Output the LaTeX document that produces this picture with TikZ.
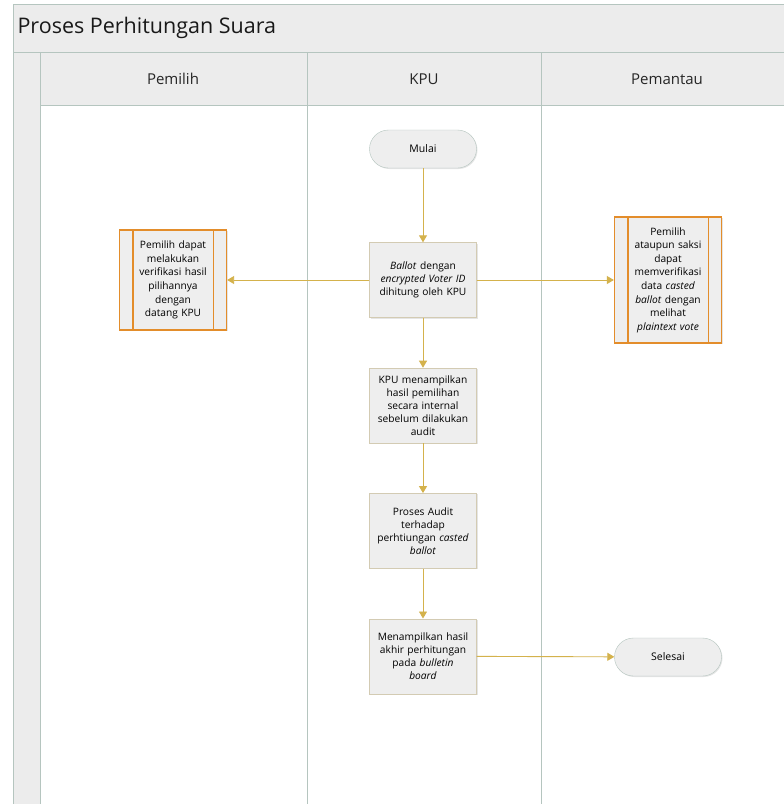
\documentclass[tikz,border=0pt]{standalone}
\usepackage{fontspec}
\setmainfont{Open Sans}
\usetikzlibrary{arrows.meta,positioning,shadows}
\definecolor{frameln}{HTML}{B5C5BF}
\definecolor{bandfill}{HTML}{ECECEC}
\definecolor{boxfill}{HTML}{EEEEEE}
\definecolor{flowln}{HTML}{D4B24C}
\definecolor{predln}{HTML}{E38D2B}
\definecolor{procln}{HTML}{D3CBB3}

\begin{document}
\begin{tikzpicture}[x=1pt, y=-1pt, >={Triangle[length=7pt,width=8pt]}, node distance=50pt,
  proc/.style={draw=procln, fill=boxfill, align=center, text width=102pt, minimum width=107pt, minimum height=75pt, inner sep=2pt, font=\fontsize{10.2}{13}\selectfont, drop shadow={opacity=0.2, shadow xshift=1pt, shadow yshift=-1pt}},
  term/.style={draw=frameln, fill=boxfill, rounded corners=19pt, minimum width=107pt, minimum height=38pt, font=\fontsize{10.5}{12}\selectfont, drop shadow={opacity=0.2, shadow xshift=1pt, shadow yshift=-1pt}},
  pred/.style={draw=predln, line width=1.3pt, fill=boxfill, align=center, text width=80pt, minimum width=107pt, inner sep=2pt, font=\fontsize{10.2}{13.6}\selectfont, drop shadow={opacity=0.2, shadow xshift=1pt, shadow yshift=-1pt}},
  lanehd/.style={font=\fontsize{15}{17}\selectfont, text=black!85},
  flow/.style={->, draw=flowln, line width=0.9pt}]
\useasboundingbox (0,0) rectangle (784,804);
\clip (0,0) rectangle (784,804);
% pool and lanes
\fill[white] (0,0) rectangle (784,804);
\filldraw[fill=bandfill, draw=frameln, line width=1pt] (13,4) rectangle (820,52);
\filldraw[fill=bandfill, draw=frameln, line width=1pt] (13,52) rectangle (40,820);
\filldraw[fill=bandfill, draw=frameln, line width=1pt] (40,52) rectangle (820,105);
\draw[frameln, line width=1pt] (307,52) -- (307,820) (541,52) -- (541,820);
\node[anchor=west, font=\fontsize{21.5}{24}\selectfont, text=black!90] (judul) at (14,28) {Proses Perhitungan Suara};
\node[lanehd] (pemilih) at (173,79) {Pemilih};
\node[lanehd] (kpu) at (424,79) {KPU};
\node[lanehd] (pemantau) at (667,79) {Pemantau};

% flow nodes
\node[term] (mulai) at (423,149) {Mulai};
\node[proc] (hitung) at (423,280) {\emph{Ballot} dengan\\ \emph{encrypted Voter ID}\\ dihitung oleh KPU};
\node[proc, below=of hitung] (tampil) {KPU menampilkan\\ hasil pemilihan\\ secara internal\\ sebelum dilakukan\\ audit};
\node[proc, below=of tampil] (audit) {Proses Audit\\ terhadap\\ perhtiungan \emph{casted}\\ \emph{ballot}};
\node[proc, below=of audit] (akhir) {Menampilkan hasil\\ akhir perhitungan\\ pada \emph{bulletin}\\ \emph{board}};
\node[pred, minimum height=100pt] (verpem) at (173,280) {Pemilih dapat\\ melakukan\\ verifikasi hasil\\ pilihannya\\ dengan\\ datang KPU};
\node[pred, minimum height=126pt] (verpan) at (668,280) {Pemilih\\ ataupun saksi\\ dapat\\ memverifikasi\\ data \emph{casted}\\ \emph{ballot} dengan\\ melihat\\ \emph{plaintext vote}};
\node[term] (selesai) at (668,657) {Selesai};
\foreach \b in {verpem, verpan} {
  \draw[predln, line width=1.3pt] ([xshift=14pt]\b.north west) -- ([xshift=14pt]\b.south west);
  \draw[predln, line width=1.3pt] ([xshift=-14pt]\b.north east) -- ([xshift=-14pt]\b.south east);
}

% connectors
\draw[flow] (mulai) -- (hitung);
\draw[flow] (hitung) -- (verpem);
\draw[flow] (hitung) -- (verpan);
\draw[flow] (hitung) -- (tampil);
\draw[flow] (tampil) -- (audit);
\draw[flow] (audit) -- (akhir);
\draw[flow] (akhir) -- (selesai);
\end{tikzpicture}
\end{document}
